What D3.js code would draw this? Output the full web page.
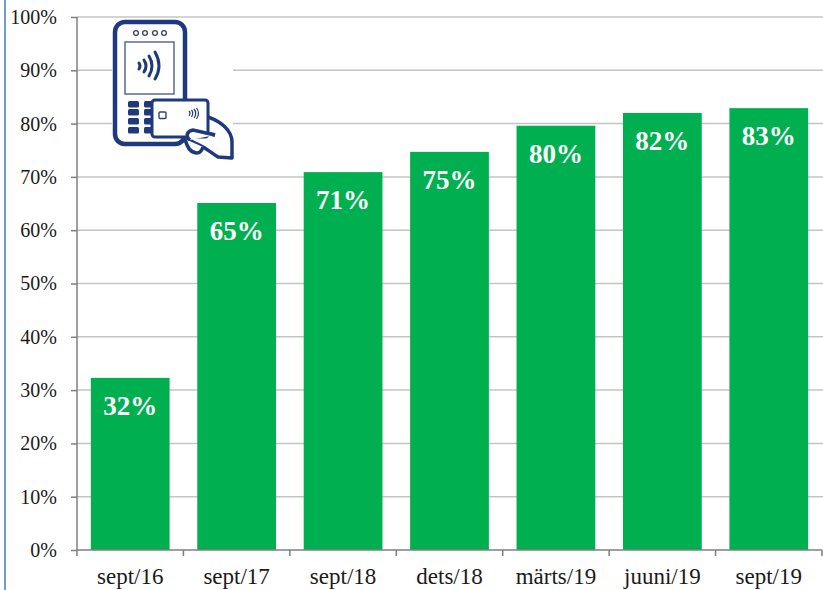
<!DOCTYPE html>
<html>
<head>
<meta charset="utf-8">
<script src="https://cdn.jsdelivr.net/npm/d3@7"></script>
<style>
  html, body { margin: 0; padding: 0; background: #fff; overflow: hidden; }
  text { font-family: "Liberation Serif", serif; fill: #1a1a1a; }
</style>
</head>
<body>
<svg width="823" height="590"></svg>
<script>
var categories = ["sept/16", "sept/17", "sept/18", "dets/18", "märts/19", "juuni/19", "sept/19"];
var values = [32.3, 65.1, 70.9, 74.7, 79.6, 82, 82.9];
var labels = ["32%", "65%", "71%", "75%", "80%", "82%", "83%"];
var yTicks = [0, 10, 20, 30, 40, 50, 60, 70, 80, 90, 100];

var svg = d3.select("svg");
var navy = "#1f3a7c";

// blue line at the left edge of the slide
svg.append("line")
    .attr("x1", 5).attr("x2", 5)
    .attr("y1", 0).attr("y2", 590)
    .attr("stroke", "#6f9bd6")
    .attr("stroke-width", 2);

var x = d3.scaleBand().domain(categories).range([77, 822]).paddingInner(0.26).paddingOuter(0.13);
var y = d3.scaleLinear().domain([0, 100]).range([550, 17]);

// grid
svg.append("g").selectAll("line")
    .data(yTicks.slice(1))
    .enter().append("line")
    .attr("x1", 77).attr("x2", 823)
    .attr("y1", function(d) { return y(d); })
    .attr("y2", function(d) { return y(d); })
    .attr("stroke", "#c4c4c4")
    .attr("stroke-width", 1.5);

// bars
svg.append("g").selectAll("rect")
    .data(categories)
    .enter().append("rect")
    .attr("x", function(d) { return x(d); })
    .attr("y", function(d, i) { return y(values[i]); })
    .attr("width", x.bandwidth())
    .attr("height", function(d, i) { return y(0) - y(values[i]); })
    .attr("fill", "#00b050");

// value labels
svg.append("g").selectAll("text")
    .data(labels)
    .enter().append("text")
    .attr("x", function(d, i) { return x(categories[i]) + x.bandwidth() / 2; })
    .attr("y", function(d, i) { return y(values[i]) + 37; })
    .attr("text-anchor", "middle")
    .attr("font-size", "27px")
    .attr("font-weight", "bold")
    .style("fill", "#fff")
    .text(function(d) { return d; });

// axes
var yAxis = d3.axisLeft(y).tickValues(yTicks).tickSize(6).tickPadding(14)
    .tickFormat(function(d) { return d + "%"; });
var gy = svg.append("g").attr("transform", "translate(77,0)").call(yAxis);
gy.selectAll("text").attr("font-size", "20px").attr("font-family", null);
gy.selectAll("line, path").attr("stroke", "#7f7f7f").attr("stroke-width", 1.5);
gy.select("path").attr("d", "M0,17V550");

var step = x.step();
var xAxis = d3.axisBottom(x).tickSize(0).tickPadding(17);
var gx = svg.append("g").attr("transform", "translate(0,550)").call(xAxis);
gx.selectAll("text").attr("font-size", "23px").attr("font-family", null).attr("dy", "0.72em");
gx.selectAll("path").attr("stroke", "#7f7f7f").attr("stroke-width", 1.5).attr("d", "M77,0H822");
gx.selectAll(".tick").append("line")
    .attr("x1", step / 2).attr("x2", step / 2)
    .attr("y1", 0).attr("y2", 6)
    .attr("stroke", "#7f7f7f").attr("stroke-width", 1.5);
gx.append("line")
    .attr("x1", 77).attr("x2", 77).attr("y1", 0).attr("y2", 6)
    .attr("stroke", "#7f7f7f").attr("stroke-width", 1.5);

// payment terminal picture on top of the grid
var icon = svg.append("g");
icon.append("rect").attr("x", 112).attr("y", 19).attr("width", 121).attr("height", 142).attr("fill", "#fff");
icon.append("rect").attr("x", 115).attr("y", 22).attr("width", 70).attr("height", 122).attr("rx", 10)
    .attr("fill", "#fff").attr("stroke", navy).attr("stroke-width", 4.5);
icon.append("rect").attr("x", 125).attr("y", 42).attr("width", 49).attr("height", 52)
    .attr("fill", "#fff").attr("stroke", "#5c6a8c").attr("stroke-width", 1.5);
[136, 145, 155, 164].forEach(function(cx) {
    icon.append("circle").attr("cx", cx).attr("cy", 33).attr("r", 2.4)
        .attr("fill", "none").attr("stroke", "#34456f").attr("stroke-width", 1.3);
});
// keypad
[104, 112, 121, 130].forEach(function(ky) {
    icon.append("rect").attr("x", 128).attr("y", ky - 3).attr("width", 11).attr("height", 6.5).attr("rx", 1.5).attr("fill", navy);
    icon.append("rect").attr("x", 144).attr("y", ky - 3).attr("width", 11).attr("height", 6.5).attr("rx", 1.5).attr("fill", navy);
});
// contactless waves on the screen
icon.append("g").attr("fill", "none").attr("stroke", navy).attr("stroke-linecap", "round")
    .selectAll("path")
    .data(["M139,63Q141,66 139,69", "M144,60Q148,66 144,72", "M149,56Q155,66 149,76", "M155,52Q163,66 155,79"])
    .enter().append("path")
    .attr("d", function(d) { return d; })
    .attr("stroke-width", 3);
// hand
icon.append("path")
    .attr("d", "M208,117C220,121 232,130 232,142L232,158L218,157C212,153 208,150 203,147C198,144 192,142 190,140C185,136 187,131 193,130L215,135")
    .attr("fill", "#fff").attr("stroke", navy).attr("stroke-width", 3.5).attr("stroke-linejoin", "round");
icon.append("path")
    .attr("d", "M185,139C187,147 190,153 197,153C200,153 202,150 203,147")
    .attr("fill", "#fff").attr("stroke", navy).attr("stroke-width", 3.5);
// card
icon.append("rect").attr("x", 152).attr("y", 100).attr("width", 56).attr("height", 37).attr("rx", 3)
    .attr("fill", "#fff").attr("stroke", navy).attr("stroke-width", 3);
icon.append("path")
    .attr("d", "M190,140C185,136 187,131 193,130L215,135")
    .attr("fill", "#fff").attr("stroke", navy).attr("stroke-width", 3.5);
icon.append("rect").attr("x", 159).attr("y", 112).attr("width", 7).attr("height", 6.5).attr("rx", 1)
    .attr("fill", "#fff").attr("stroke", "#34456f").attr("stroke-width", 1.4);
icon.append("g").attr("fill", "none").attr("stroke", navy).attr("stroke-width", 1.2)
    .selectAll("path")
    .data(["M189,111Q191,113 189,116", "M191.500,110Q194,113 191.500,117", "M194,109Q197.500,113 194,118", "M196.500,108Q200.500,113 196.500,119"])
    .enter().append("path")
    .attr("d", function(d) { return d; });
</script>
</body>
</html>
